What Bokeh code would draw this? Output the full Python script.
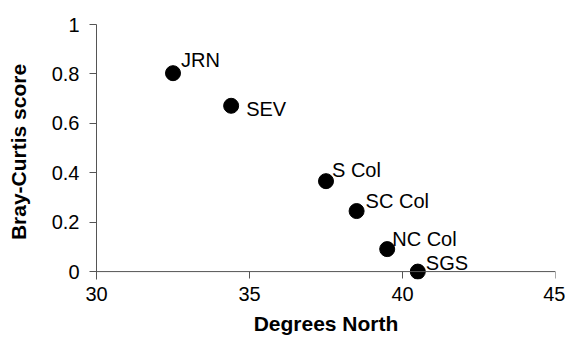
from bokeh.plotting import figure
from bokeh.models import ColumnDataSource, FixedTicker, Range1d, Span
from bokeh.core.properties import value
from bokeh.embed import file_html
from bokeh.resources import INLINE

sites = ["JRN", "SEV", "S Col", "SC Col", "NC Col", "SGS"]
degrees_north = [32.5, 34.4, 37.5, 38.5, 39.5, 40.5]
bray_curtis = [0.803, 0.671, 0.366, 0.245, 0.091, 0.0]
x_ticks = [30, 35, 40, 45]
y_ticks = [0, 0.2, 0.4, 0.6, 0.8, 1]
y_tick_labels = ["0", "0.2", "0.4", "0.6", "0.8", "1"]

# label placement (screen pixels, relative to each point)
label_dx = [8, 15, 6, 9, 5, 8]
label_dy = [-13, 3, -11, -10, -10, -9]

src = ColumnDataSource(dict(x=degrees_north, y=bray_curtis, name=sites,
                            dx=label_dx, dy=label_dy))

font = "Liberation Sans"
axis_color = "#555555"

p = figure(width=565, height=343, output_backend="svg", toolbar_location=None,
           x_range=Range1d(30, 45), y_range=Range1d(-0.032, 1),
           min_border_left=96, min_border_right=10, min_border_top=24, min_border_bottom=64)
p.outline_line_color = None
p.xgrid.grid_line_color = None
p.ygrid.grid_line_color = None
p.border_fill_color = "white"

# x axis line at y = 0 and its ticks
p.add_layout(Span(location=0, dimension="width", line_color=axis_color, line_width=1))
p.segment(x0=x_ticks, y0=[0] * len(x_ticks), x1=x_ticks, y1=[-0.028] * len(x_ticks),
          line_color=axis_color, line_width=1)

p.scatter("x", "y", source=src, size=15, color="black")
p.text("x", "y", text="name", source=src, x_offset="dx", y_offset="dy",
       text_font=value(font), text_font_size="20px",
       text_baseline="alphabetic", text_align="left", text_color="black")

p.xaxis.ticker = FixedTicker(ticks=x_ticks)
p.yaxis.ticker = FixedTicker(ticks=y_ticks)
p.yaxis.major_label_overrides = {t: l for t, l in zip(y_ticks, y_tick_labels)}
for ax in (p.xaxis[0], p.yaxis[0]):
    ax.minor_tick_line_color = None
    ax.major_label_text_font = font
    ax.major_label_text_font_size = "20px"
    ax.major_label_text_color = "black"
    ax.axis_label_text_font = font
    ax.axis_label_text_font_size = "21px"
    ax.axis_label_text_font_style = "bold"
    ax.axis_label_text_color = "black"

p.yaxis.axis_line_color = axis_color
p.yaxis.major_tick_line_color = axis_color
p.yaxis.major_tick_in = 0
p.yaxis.major_tick_out = 7
p.yaxis.major_label_standoff = 10
p.yaxis.axis_label = "Bray-Curtis score"
p.yaxis.axis_label_standoff = 19

p.xaxis.axis_line_color = None
p.xaxis.major_tick_line_color = None
p.xaxis.major_tick_in = 0
p.xaxis.major_tick_out = 0
p.xaxis.major_label_standoff = 7
p.xaxis.axis_label = "Degrees North"
p.xaxis.axis_label_standoff = 8

open("out.html", "w").write(file_html(p, INLINE))
